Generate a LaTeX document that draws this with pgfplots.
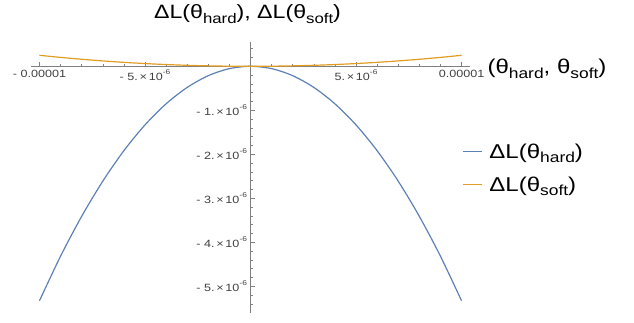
\documentclass[border=0pt]{standalone}
\usepackage{fontspec}
\setmainfont[FakeStretch=1.2]{Liberation Sans}
\usepackage{pgfplots}
\pgfplotsset{compat=1.18}
\definecolor{mblue}{rgb}{0.368417,0.506779,0.709798}
\definecolor{morange}{rgb}{0.880722,0.611041,0.142051}
\newcommand{\sub}[1]{\raisebox{-0.22em}{\fontsize{14.5}{14.5}\selectfont #1}}
\newcommand{\subt}[1]{\raisebox{-0.22em}{\fontsize{14}{14}\selectfont #1}}
\newcommand{\sci}[1]{#1.\,×\,10\raisebox{0.55em}{\fontsize{7}{7}\selectfont -6}}
\newcommand{\bigf}{\fontsize{20}{20}\selectfont}
\newcommand{\titf}{\fontsize{19.3}{19.3}\selectfont}
\begin{document}
\begin{tikzpicture}
\useasboundingbox (0,0) rectangle (634pt,322pt);
\begin{axis}[
  at={(250.5pt,255.7pt)}, anchor=origin,
  scale only axis, width=439pt, height=271pt,
  xmin=-1.04e-5, xmax=1.04e-5, ymin=-5.61e-6, ymax=0.55e-6,
  axis lines=middle, axis line style={-, black!50, line width=0.6pt},
  clip=false, scaled ticks=false,
  xtick={-1e-5,-5e-6,5e-6,1e-5},
  xticklabels={- 0.00001, - \sci{5}, \sci{5}, 0.00001},
  minor xtick={-9e-6,-8e-6,-7e-6,-6e-6,-4e-6,-3e-6,-2e-6,-1e-6,1e-6,2e-6,3e-6,4e-6,6e-6,7e-6,8e-6,9e-6},
  ytick={-5e-6,-4e-6,-3e-6,-2e-6,-1e-6},
  yticklabels={- \sci{5}, - \sci{4}, - \sci{3}, - \sci{2}, - \sci{1}},
  minor ytick={0.4e-6,0.2e-6,-0.2e-6,-0.4e-6,-0.6e-6,-0.8e-6,-1.2e-6,-1.4e-6,-1.6e-6,-1.8e-6,-2.2e-6,-2.4e-6,-2.6e-6,-2.8e-6,-3.2e-6,-3.4e-6,-3.6e-6,-3.8e-6,-4.2e-6,-4.4e-6,-4.6e-6,-4.8e-6,-5.2e-6,-5.4e-6},
  tick style={black!50, line width=0.5pt},
  major tick length=4pt, minor tick length=2.5pt,
  tick align=inside,
  ticklabel style={font=\fontsize{10.5}{10.5}\selectfont, text=black!75},
  legend style={at={(axis description cs:0.975,0.534)}, anchor=west, draw=none, fill=none, font=\bigf, row sep=13pt},
  legend cell align=left,
  legend image code/.code={\draw[#1, line width=1.2pt] (0pt,0pt) -- (19pt,0pt); \path (24pt,0pt);},
]
\addplot[mblue, line width=1.2pt, smooth] coordinates {
(-1e-5,-5.33e-6) (-9e-6,-4.317e-6) (-8e-6,-3.411e-6) (-7e-6,-2.612e-6) (-6e-6,-1.919e-6)
(-5e-6,-1.333e-6) (-4e-6,-0.853e-6) (-3e-6,-0.480e-6) (-2e-6,-0.213e-6) (-1e-6,-0.053e-6)
(0,0)
(1e-6,-0.053e-6) (2e-6,-0.213e-6) (3e-6,-0.480e-6) (4e-6,-0.853e-6) (5e-6,-1.333e-6)
(6e-6,-1.919e-6) (7e-6,-2.612e-6) (8e-6,-3.411e-6) (9e-6,-4.317e-6) (1e-5,-5.33e-6)};
\addlegendentry{\bigf ΔL(θ\sub{hard})}
\addplot[morange, line width=1.2pt, smooth] coordinates {
(-1e-5,0.25e-6) (-9e-6,0.2025e-6) (-8e-6,0.16e-6) (-7e-6,0.1225e-6) (-6e-6,0.09e-6)
(-5e-6,0.0625e-6) (-4e-6,0.04e-6) (-3e-6,0.0225e-6) (-2e-6,0.01e-6) (-1e-6,0.0025e-6)
(0,0)
(1e-6,0.0025e-6) (2e-6,0.01e-6) (3e-6,0.0225e-6) (4e-6,0.04e-6) (5e-6,0.0625e-6)
(6e-6,0.09e-6) (7e-6,0.1225e-6) (8e-6,0.16e-6) (9e-6,0.2025e-6) (1e-5,0.25e-6)};
\addlegendentry{\bigf ΔL(θ\sub{soft})}
\node[anchor=base, xshift=-3pt, yshift=23.3pt, font=\titf] at (axis description cs:0.5,1) {ΔL(θ\subt{hard}), ΔL(θ\subt{soft})};
\node[anchor=base west, xshift=14pt, yshift=-7.7pt, font=\bigf] at (axis cs:1.04e-5,0) {(θ\sub{hard}, θ\sub{soft})};
\end{axis}
\end{tikzpicture}
\end{document}
